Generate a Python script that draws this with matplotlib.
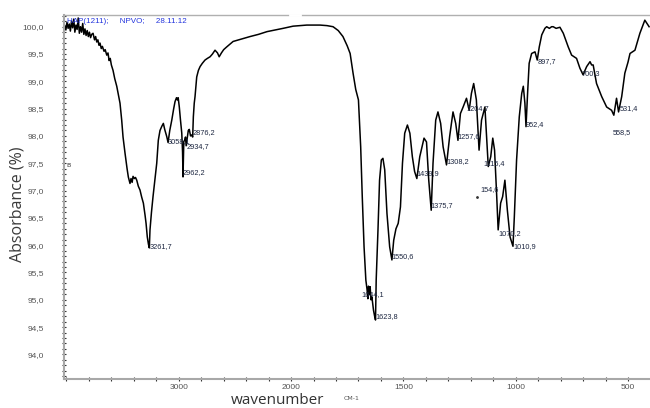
import numpy as np
import matplotlib
matplotlib.use('Agg')
import matplotlib.pyplot as plt
from matplotlib.ticker import FixedLocator, FuncFormatter

# spectrum: wavenumber (cm-1) and absorbance (%)
wn = [4015, 4005, 3995, 3985, 3975, 3965, 3955, 3945, 3935, 3925, 3915, 3905,
      3895, 3885, 3875, 3865, 3855, 3845, 3835, 3825, 3815, 3805, 3795, 3785,
      3775, 3763, 3750, 3740, 3730, 3720, 3710, 3701, 3690, 3680, 3665, 3655,
      3641, 3630, 3620, 3610, 3600, 3585, 3570, 3552, 3523, 3508, 3496, 3478,
      3460, 3449, 3440, 3434, 3425, 3415, 3407, 3395, 3385, 3374, 3360, 3345,
      3330, 3315, 3300, 3291, 3280, 3270, 3262, 3256, 3243, 3229, 3212, 3196,
      3182, 3167, 3150, 3137, 3125, 3107, 3095, 3080, 3062, 3045, 3033, 3020,
      3012, 3005, 2995, 2985, 2973, 2966, 2962, 2955, 2947, 2940, 2934, 2925,
      2915, 2906, 2895, 2884, 2876, 2870, 2862, 2855, 2840, 2825, 2810, 2790,
      2766, 2745, 2721, 2700, 2677, 2655, 2640, 2620, 2600, 2573, 2516, 2450,
      2365, 2290, 2214, 2140, 2071, 1991, 1930, 1871, 1840, 1813, 1790, 1769,
      1750, 1737, 1724, 1712, 1700, 1690, 1683, 1675, 1667, 1662, 1658, 1655,
      1652, 1648, 1644, 1640, 1633, 1628, 1624, 1621, 1613, 1606, 1598, 1591,
      1583, 1573, 1561, 1551, 1543, 1533, 1523, 1513, 1504, 1494, 1482, 1471,
      1460, 1450, 1440, 1427, 1408, 1397, 1387, 1376, 1368, 1356, 1346, 1334,
      1323, 1308, 1294, 1279, 1267, 1257, 1246, 1234, 1219, 1207, 1197, 1187,
      1175, 1163, 1152, 1137, 1122, 1111, 1102, 1094, 1085, 1078, 1067, 1058,
      1048, 1037, 1025, 1012, 1006, 996, 984, 973, 966, 959, 954, 947,
      940, 929, 914, 904, 895, 884, 870, 862, 850, 840, 833, 820,
      803, 788, 766, 751, 740, 729, 714, 700, 684, 669, 662, 655,
      640, 617, 595, 573, 563, 551, 542, 528, 514, 500, 491, 469,
      447, 425, 406]
ab = [100.02, 99.94, 100.08, 99.97, 100.05, 99.92, 100.10, 99.98, 100.14, 99.90, 100.03, 99.95,
      100.16, 99.88, 100.00, 99.90, 100.06, 99.86, 99.96, 99.84, 99.93, 99.82, 99.90, 99.80,
      99.86, 99.88, 99.76, 99.82, 99.72, 99.76, 99.66, 99.70, 99.60, 99.64, 99.55, 99.58,
      99.48, 99.52, 99.38, 99.42, 99.30, 99.20, 99.05, 98.91, 98.60, 98.29, 97.98, 97.68,
      97.40, 97.25, 97.18, 97.13, 97.22, 97.15, 97.26, 97.22, 97.24, 97.19, 97.08, 97.01,
      96.88, 96.77, 96.55, 96.40, 96.15, 96.02, 95.95, 96.28, 96.60, 96.89, 97.20, 97.50,
      97.92, 98.10, 98.18, 98.23, 98.12, 97.99, 97.88, 98.10, 98.29, 98.50, 98.63, 98.70,
      98.66, 98.70, 98.53, 98.30, 98.05, 97.70, 97.25, 97.90, 97.92, 97.98, 97.82, 97.95,
      98.10, 98.12, 98.00, 98.02, 97.98, 98.35, 98.60, 98.72, 99.08, 99.20, 99.27, 99.33,
      99.39, 99.42, 99.45, 99.50, 99.57, 99.52, 99.45, 99.52, 99.58, 99.63, 99.73, 99.77,
      99.82, 99.86, 99.91, 99.94, 99.97, 100.01, 100.03, 100.03, 100.02, 100.00, 99.93, 99.82,
      99.65, 99.51, 99.15, 98.85, 98.66, 97.80, 96.89, 95.97, 95.36, 95.20, 95.02, 95.25,
      95.10, 95.24, 95.00, 95.05, 94.81, 94.70, 94.63, 95.36, 96.28, 97.19, 97.56, 97.59,
      97.38, 96.58, 95.97, 95.73, 96.09, 96.30, 96.40, 96.70, 97.50, 98.05, 98.20, 98.05,
      97.62, 97.35, 97.22, 97.62, 97.96, 97.89, 97.19, 96.64, 97.50, 98.29, 98.44, 98.23,
      97.80, 97.47, 97.99, 98.44, 98.23, 97.92, 98.41, 98.53, 98.69, 98.47, 98.78, 98.96,
      98.66, 97.74, 98.29, 98.53, 97.44, 97.62, 97.96, 97.74, 96.95, 96.28, 96.77, 96.89,
      97.19, 96.64, 96.15, 95.98, 96.52, 97.56, 98.35, 98.78, 98.91, 98.60, 98.17, 98.78,
      99.33, 99.51, 99.54, 99.39, 99.63, 99.85, 99.97, 100.00, 99.97, 100.00, 100.00, 99.97,
      99.99, 99.88, 99.63, 99.48, 99.45, 99.42, 99.24, 99.12, 99.27, 99.36, 99.30, 99.30,
      98.96, 98.72, 98.53, 98.47, 98.38, 98.69, 98.44, 98.72, 99.15, 99.35, 99.51, 99.57,
      99.88, 100.12, 100.00]

# peak labels: text, wavenumber and absorbance where the text starts
peak_text = ['3261,7', '3058,1', '2934,7', '2876,2', '2962,2', '1644,1', '1623,8',
             '1550,6', '1439,9', '1375,7', '1308,2', '1257,6', '1204,7', '1115,4',
             '154,6', '1070,2', '1010,9', '952,4', '897,7', '700,3', '531,4', '558,5']
peak_wn = [3256, 3095, 2929, 2875, 2964, 1686, 1626,
           1552, 1444, 1378, 1307, 1258, 1218, 1144,
           1156, 1078, 1011, 956, 904, 707, 536, 569]
peak_ab = [95.98, 97.90, 97.80, 98.06, 97.33, 95.09, 94.69,
           95.79, 97.31, 96.72, 97.53, 97.99, 98.50, 97.50,
           97.01, 96.22, 95.97, 98.20, 99.36, 99.15, 98.50, 98.06]

x_major = [3000, 2000, 1500, 1000, 500]
x_minor = [4000, 3800, 3600, 3400, 3200, 2800, 2600, 2400, 2200,
           1900, 1800, 1700, 1600, 1400, 1300, 1200, 1100,
           900, 800, 700, 600, 400]
y_major = [94.0, 94.5, 95.0, 95.5, 96.0, 96.5, 97.0, 97.5, 98.0, 98.5, 99.0, 99.5, 100.0]


# 4000-2000 drawn at half scale
def fwd(x):
    x = np.asarray(x, dtype=float)
    return np.where(x > 2000, 2000 + (x - 2000) / 2.0, x)


def inv(x):
    x = np.asarray(x, dtype=float)
    return np.where(x > 2000, 2000 + (x - 2000) * 2.0, x)


fig = plt.figure(figsize=(6.5, 4.08), dpi=100)
ax = fig.add_axes([64.3 / 650, 1 - 379 / 408, 1 - 64.3 / 650, (379 - 14.7) / 408])
ax.set_xscale('function', functions=(fwd, inv))

ax.plot(wn, ab, color='black', lw=1.1)
ax.plot([1172], [96.88], 'o', ms=1, color='#333333')

for t, x, y in zip(peak_text, peak_wn, peak_ab):
    ax.text(x, y, t, fontsize=5.3, color='#1c2640', va='center', ha='left',
            family='Liberation Sans')

ax.text(0.004, 0.982, 'HAP(1211);     NPVO;     28.11.12', transform=ax.transAxes,
        fontsize=5.8, color='#2233dd', va='center', ha='left', family='Liberation Sans')
ax.text(0.004, 0.585, 'B', transform=ax.transAxes, fontsize=4.5, color='#333333',
        va='center', ha='left')

ax.set_xlim(4019, 402)
ax.set_ylim(93.55, 100.22)

ax.xaxis.set_major_locator(FixedLocator(x_major))
ax.xaxis.set_minor_locator(FixedLocator(x_minor))
ax.xaxis.set_major_formatter(FuncFormatter(lambda v, p: '%d' % round(v)))
ax.yaxis.set_major_locator(FixedLocator(y_major))
ax.yaxis.set_minor_locator(FixedLocator(np.arange(93.6, 100.21, 0.1)))
ax.yaxis.set_major_formatter(FuncFormatter(lambda v, p: ('%.1f' % v).replace('.', ',')))

ax.tick_params(axis='both', which='both', direction='inout', length=3, width=0.8,
               color='#333333', labelsize=6, labelcolor='#555555')
ax.tick_params(axis='y', pad=13)
ax.tick_params(axis='x', pad=2)
for lab in ax.get_xticklabels() + ax.get_yticklabels():
    lab.set_family('Liberation Sans')

for s in ['left', 'bottom']:
    ax.spines[s].set_color('#a8a8a8')
    ax.spines[s].set_linewidth(1.5)
ax.spines['top'].set_color('#b0b0b0')
ax.spines['top'].set_linewidth(1.0)
ax.spines['right'].set_visible(False)
# small gap in the top frame
ax.plot([2010, 1960], [1, 1], color='white', lw=2, transform=ax.get_xaxis_transform(),
        clip_on=False, zorder=5)

fig.text(18 / 650, 1 - 204 / 408, 'Absorbance (%)', rotation=90, fontsize=11.5,
         color='#3a3a3a', family='Open Sans', ha='center', va='center')
fig.text(278 / 650, 1 - 400.5 / 408, 'wavenumber', fontsize=11, color='#333333',
         family='Open Sans', ha='center', va='center')
fig.text(344 / 650, 1 - 399 / 408, 'CM-1', fontsize=4.5, color='#555555',
         ha='left', va='center')

fig.savefig('out.png', dpi=100)
